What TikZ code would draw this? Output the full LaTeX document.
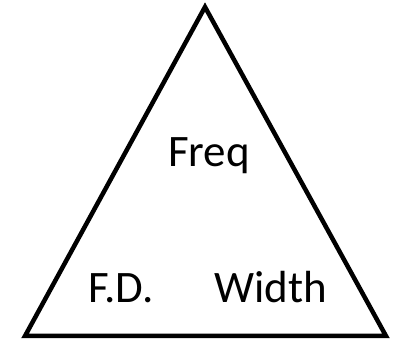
\documentclass[tikz,border=0pt]{standalone}
\usepackage{fontspec}
\setmainfont{Carlito}
\tikzset{
    edge/.style  = {line width=4.5pt, line join=miter},
    label/.style = {font=\fontsize{45}{54}\selectfont, inner sep=0pt, anchor=base west}
}

\begin{document}
\begin{tikzpicture}[x=1pt,y=1pt]

    % ---------- frame ----------
    \useasboundingbox (0,0) rectangle (394,342);

    % =================================================
    % 1. Corners of the triangle
    % =================================================
    \coordinate (Top)   at (205,335);
    \coordinate (Left)  at (25,6);
    \coordinate (Right) at (386,6);

    \draw[edge] (Left) -- (Top) -- (Right) -- cycle;

    % =================================================
    % 2. Quantities
    % =================================================
    \node[label] (freq)  at (168,175) {Freq};
    \node[label] (fd)    at (88,39)   {F.D.};
    \node[label] (width) at (214,39)  {Width};

\end{tikzpicture}
\end{document}
